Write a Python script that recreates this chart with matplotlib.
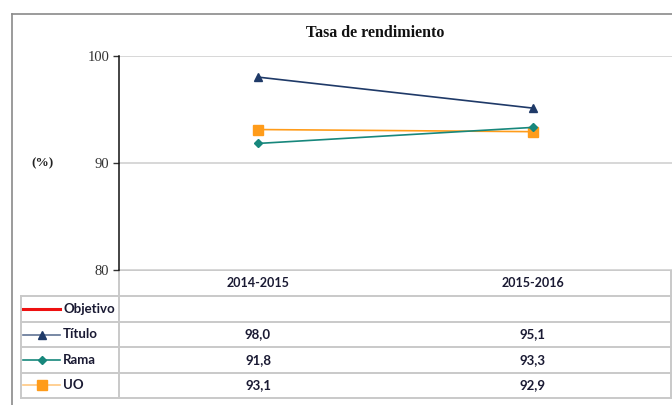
import matplotlib
matplotlib.use("Agg")
import matplotlib.pyplot as plt
import matplotlib.transforms as mtransforms

# data
periods = ["2014-2015", "2015-2016"]
series_names = ["Objetivo", "Título", "Rama", "UO"]
objetivo = [None, None]
titulo = [98.0, 95.1]
rama = [91.8, 93.3]
uo = [93.1, 92.9]

W, H = 672, 405
fig = plt.figure(figsize=(W / 100, H / 100), dpi=100)

# main plot area (pixel box 119..672 x 56..270)
ax = fig.add_axes([119 / W, 1 - 269.7 / H, (W - 119) / W, (269.7 - 55.7) / H])
ax.set_xlim(-0.5055, 1.5055)
ax.set_ylim(80, 100)

xs = list(range(len(periods)))
ax.plot(xs, titulo, color="#1f3a68", lw=1.2, marker="^", ms=6, zorder=4)
ax.plot(xs, rama, color="#17877c", lw=1.2, marker="D", ms=4.5, zorder=4)
ax.plot(xs, uo, color="#ff9c1a", lw=1.2, marker="s", ms=6.5, zorder=3)

ax.set_yticks([80, 90, 100])
ax.set_yticklabels(["80", "90", "100"], family="Liberation Serif", fontsize=10.5, color="#333333")
ax.tick_params(axis="y", length=4, width=1, color="#333333", pad=3)
ax.set_xticks([])
ax.grid(axis="y", color="#d4d4d4", lw=1.3)
ax.set_axisbelow(True)
for s in ["top", "right", "bottom"]:
    ax.spines[s].set_visible(False)
ax.spines["left"].set_color("#111111")
ax.spines["left"].set_linewidth(1.1)

# overlay in pixel coords for frame + data table
ov = fig.add_axes([0, 0, 1, 1], zorder=-1)
ov.set_xlim(0, W)
ov.set_ylim(H, 0)
ov.axis("off")
ov.patch.set_alpha(0)

fc = "#8a8a8a"
ov.plot([11.5, W], [13.5, 13.5], color=fc, lw=1.2)
ov.plot([11.5, 11.5], [13.5, H], color=fc, lw=1.2)

fig.text(375 / W, 1 - 33 / H, "Tasa de rendimiento", family="Liberation Serif",
         weight="bold", fontsize=11.5, ha="center", va="center", color="#111111")
fig.text(42 / W, 1 - 163 / H, "(%)", family="Liberation Serif", weight="bold",
         fontsize=9.5, ha="center", va="center", color="#222222")

gc = "#c9c9c9"
rows_y = [269.7, 296.3, 321.7, 347.3, 372.7, 397.7]
tab_left, tab_mid, tab_right = 20.7, 119.3, 670.5
ov.plot([tab_mid, tab_right], [rows_y[0], rows_y[0]], color=gc, lw=1.4)
for y in rows_y[1:]:
    ov.plot([tab_left, tab_right], [y, y], color=gc, lw=1.4)
ov.plot([tab_left, tab_left], [rows_y[1], rows_y[-1]], color=gc, lw=1.4)
ov.plot([tab_mid, tab_mid], [rows_y[0], rows_y[-1]], color=gc, lw=1.4)
ov.plot([tab_right, tab_right], [rows_y[0], rows_y[-1]], color=gc, lw=1.4)

tf = "Lato"
txt = "#1a1a33"
blend = mtransforms.blended_transform_factory(ax.transData, ov.transData)
for i, p in enumerate(periods):
    ov.text(i, (rows_y[0] + rows_y[1]) / 2, p, transform=blend, ha="center", va="center",
            family=tf, weight="bold", fontsize=9, color=txt)

styles = [("#ee1111", None, 0, 2.2), ("#1f3a68", "^", 6, 1.2),
          ("#17877c", "D", 4.5, 1.2), ("#ff9c1a", "s", 6.5, 1.2)]
line_alpha = [1, 0.7, 1, 0.55]
values = [objetivo, titulo, rama, uo]
for r, name in enumerate(series_names):
    yc = (rows_y[r + 1] + rows_y[r + 2]) / 2
    col, mk, ms, lw = styles[r]
    ov.plot([23, 60], [yc, yc], color=col, lw=lw, alpha=line_alpha[r])
    if mk:
        ov.plot([41.5], [yc], marker=mk, ms=ms, color=col, lw=0)
    ov.text(63, yc, name, ha="left", va="center", family=tf, weight="bold",
            fontsize=9.5, color=txt)
    for i, v in enumerate(values[r]):
        if v is not None:
            ov.text(i, yc, f"{v:.1f}".replace(".", ","), transform=blend,
                    ha="center", va="center", family=tf, weight="bold",
                    fontsize=9.5, color=txt)

fig.savefig("out.png", dpi=100)
